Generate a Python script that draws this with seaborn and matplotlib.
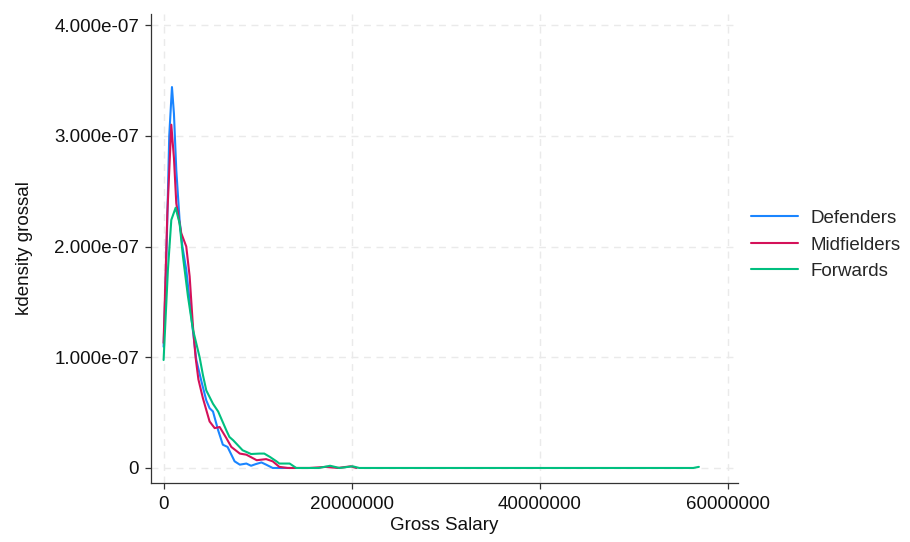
import numpy as np
import pandas as pd
import matplotlib
matplotlib.use("Agg")
import matplotlib.pyplot as plt
import seaborn as sns
from matplotlib.ticker import FixedLocator, FixedFormatter

# ---- data (salary in millions, density in units of 1e-7) ----
def_salary_m = [0, 0.3, 0.6, 0.89, 1.1, 1.35, 1.7, 2.0, 2.41, 2.94, 3.48, 4.0, 4.54,
                4.89, 5.25, 5.8, 6.3, 6.8, 7.55, 8.1, 8.8, 9.3, 9.8, 10.4, 10.9, 11.6,
                12.5, 13.4]
def_density = [1.095, 1.9, 3.0, 3.44, 3.2, 2.69, 2.24, 2.0, 1.79, 1.37, 0.975, 0.79, 0.61,
               0.54, 0.51, 0.34, 0.21, 0.19, 0.06, 0.03, 0.04, 0.02, 0.035, 0.05, 0.03, 0.0,
               0.0, 0.0]

mid_salary_m = [0, 0.4, 0.82, 1.1, 1.35, 1.88, 2.41, 2.77, 3.12, 3.4, 3.7, 4.18, 4.89, 5.43,
                5.96, 6.67, 7.2, 8.1, 8.8, 9.9, 10.9, 11.6, 12.3, 13.2, 14.1, 15.5, 17.3,
                18.5, 19.9, 20.5]
mid_density = [1.13, 2.3, 3.10, 2.8, 2.39, 2.12, 2.0, 1.73, 1.28, 1.0, 0.8, 0.63, 0.42, 0.36,
               0.37, 0.27, 0.19, 0.13, 0.12, 0.07, 0.08, 0.06, 0.01, 0.0, 0.0, 0.0, 0.01,
               0.0, 0.015, 0.0]

fwd_salary_m = [0, 0.46, 0.82, 1.28, 1.7, 2.06, 2.59, 3.12, 3.83, 4.18, 4.54, 5.25, 5.8,
                6.67, 7.0, 7.4, 8.4, 9.3, 10.2, 10.7, 11.3, 12.0, 12.3, 13.4, 14.1, 16.5,
                17.7, 18.7, 20.1, 20.8, 30, 40, 50, 56.3, 56.9]
fwd_density = [0.975, 1.79, 2.24, 2.35, 2.21, 1.91, 1.55, 1.25, 1.0, 0.84, 0.70, 0.58, 0.51,
               0.34, 0.28, 0.25, 0.16, 0.126, 0.13, 0.13, 0.10, 0.06, 0.04, 0.04, 0.0, 0.0,
               0.02, 0.0, 0.015, 0.0, 0.0, 0.0, 0.0, 0.0, 0.01]

groups = ["Defenders", "Midfielders", "Forwards"]
colors = ["#1a85ff", "#d41159", "#00bf7f"]

x_ticks = [0, 20000000, 40000000, 60000000]
x_tick_labels = ["0", "20000000", "40000000", "60000000"]
y_ticks = [0, 1e-7, 2e-7, 3e-7, 4e-7]
y_tick_labels = ["0", "1.000e-07", "2.000e-07", "3.000e-07", "4.000e-07"]

frames = []
for name, xs, ys in [("Defenders", def_salary_m, def_density),
                     ("Midfielders", mid_salary_m, mid_density),
                     ("Forwards", fwd_salary_m, fwd_density)]:
    frames.append(pd.DataFrame({"salary": np.array(xs) * 1e6,
                                "density": np.array(ys) * 1e-7,
                                "group": name}))
df = pd.concat(frames, ignore_index=True)

sns.set_style("white")
plt.rcParams["font.family"] = ["Liberation Sans", "DejaVu Sans"]

FS = 13.5

fig = plt.figure(figsize=(9.1, 5.42), dpi=100)
ax = fig.add_axes([0.1655, 0.109, 0.811 - 0.1655, 0.974 - 0.109])

sns.lineplot(data=df, x="salary", y="density", hue="group", hue_order=groups,
             palette=colors, linewidth=1.5, sort=False, estimator=None, ax=ax,
             legend=True)

ax.set_xlim(-1.38e6, 61.06e6)
ax.set_ylim(-0.135e-7, 4.099e-7)

ax.xaxis.set_major_locator(FixedLocator(x_ticks))
ax.xaxis.set_major_formatter(FixedFormatter(x_tick_labels))
ax.yaxis.set_major_locator(FixedLocator(y_ticks))
ax.yaxis.set_major_formatter(FixedFormatter(y_tick_labels))

ax.grid(True, which="major", color="#eaeaea", linestyle=(0, (5, 4)), linewidth=1.0)
ax.set_axisbelow(True)

for s in ["top", "right"]:
    ax.spines[s].set_visible(False)
for s in ["left", "bottom"]:
    ax.spines[s].set_color("#333333")
    ax.spines[s].set_linewidth(0.9)

ax.tick_params(axis="both", which="major", direction="out", length=4.3, width=0.9,
               color="#333333", labelsize=FS, labelcolor="#111111",
               left=True, bottom=True)
ax.tick_params(axis="y", pad=4)
ax.tick_params(axis="x", pad=5)

ax.set_xlabel("Gross Salary", fontsize=FS, color="#111111", labelpad=3)
ax.set_ylabel("kdensity grossal", fontsize=FS, color="#111111", labelpad=15)

handles, labels = ax.get_legend_handles_labels()
ax.get_legend().remove()
fig.legend(handles, labels, loc="center left", bbox_to_anchor=(0.825, 0.548),
           frameon=False, fontsize=FS, handlelength=2.5, handletextpad=0.7,
           labelspacing=0.5, borderpad=0, borderaxespad=0)

fig.savefig("out.png", dpi=100)
